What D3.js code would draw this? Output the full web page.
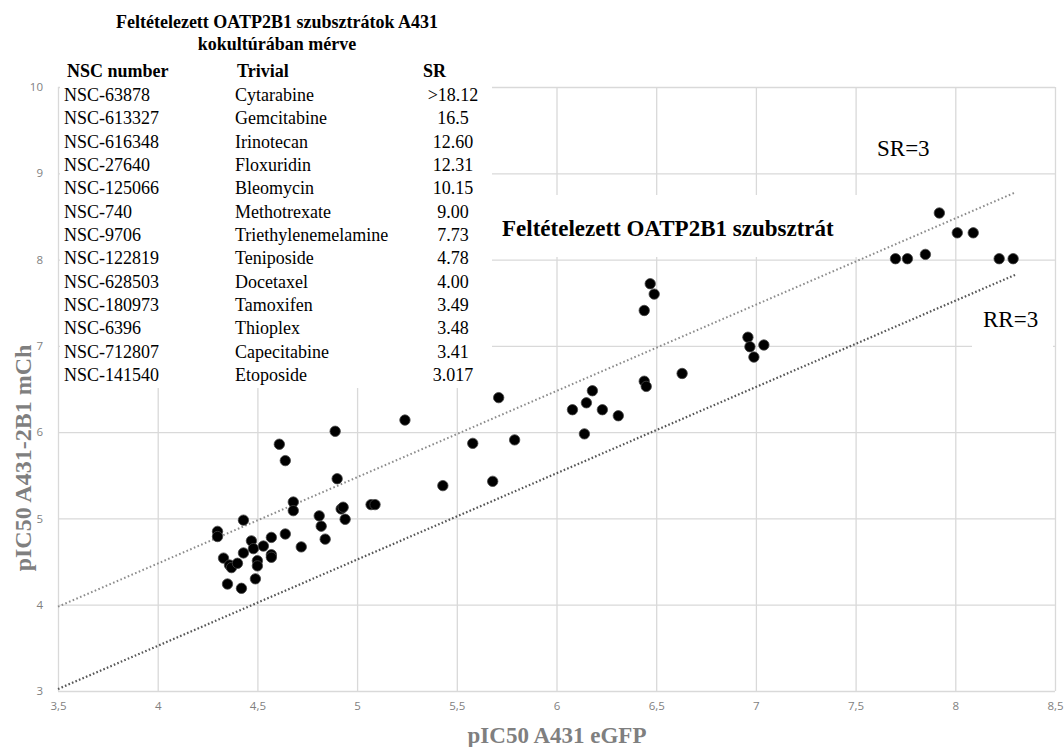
<!DOCTYPE html>
<html>
<head>
<meta charset="utf-8">
<script src="https://cdn.jsdelivr.net/npm/d3@7"></script>
<style>
  body { margin: 0; background: #fff; }
  svg { display: block; }
</style>
</head>
<body>
<svg id="chart" width="1064" height="747"></svg>
<script>
// table of presumed substrates
var nscNumbers = ['NSC-63878', 'NSC-613327', 'NSC-616348', 'NSC-27640', 'NSC-125066', 'NSC-740',
    'NSC-9706', 'NSC-122819', 'NSC-628503', 'NSC-180973', 'NSC-6396', 'NSC-712807', 'NSC-141540'];
var trivialNames = ['Cytarabine', 'Gemcitabine', 'Irinotecan', 'Floxuridin', 'Bleomycin', 'Methotrexate',
    'Triethylenemelamine', 'Teniposide', 'Docetaxel', 'Tamoxifen', 'Thioplex', 'Capecitabine', 'Etoposide'];
var srValues = ['>18.12', '16.5', '12.60', '12.31', '10.15', '9.00', '7.73', '4.78', '4.00', '3.49', '3.48', '3.41', '3.017'];

// scatter values
var eGFP = [7.92, 8.01, 8.09, 7.70, 7.76, 7.85, 8.22, 8.29,
    6.47, 6.49, 6.44, 6.96, 6.97, 7.04, 6.99, 6.63, 6.44, 6.45,
    6.18, 6.15, 6.08, 6.23, 6.31, 6.14,
    5.71, 5.24, 4.89, 5.58, 5.79,
    4.61, 4.64, 4.90, 5.43, 5.68,
    4.68, 4.68, 4.92, 4.93, 4.94, 5.07, 5.09,
    4.81, 4.82, 4.84, 4.64, 4.72,
    4.30, 4.30, 4.43, 4.33, 4.36, 4.37, 4.40, 4.43, 4.47, 4.48, 4.50, 4.50, 4.53, 4.57, 4.57, 4.57, 4.35, 4.42, 4.49];
var mCh = [8.54, 8.31, 8.31, 8.01, 8.01, 8.06, 8.01, 8.01,
    7.72, 7.60, 7.41, 7.10, 6.99, 7.01, 6.87, 6.68, 6.59, 6.53,
    6.48, 6.34, 6.26, 6.26, 6.19, 5.98,
    6.40, 6.14, 6.01, 5.87, 5.91,
    5.86, 5.67, 5.46, 5.38, 5.43,
    5.19, 5.09, 5.11, 5.13, 4.99, 5.16, 5.16,
    5.03, 4.91, 4.76, 4.82, 4.67,
    4.85, 4.79, 4.98, 4.54, 4.46, 4.43, 4.48, 4.60, 4.74, 4.65, 4.51, 4.45, 4.68, 4.78, 4.58, 4.55, 4.24, 4.19, 4.30];

var xTicks = [3.5, 4, 4.5, 5, 5.5, 6, 6.5, 7, 7.5, 8, 8.5];
var yTicks = [3, 4, 5, 6, 7, 8, 9, 10];
var lineX = [3.5, 8.3];                 // extent of the ratio lines
var ratioOffset = Math.log10(3);        // SR=3 / RR=3

var svg = d3.select('#chart');
var plotLeft = 58, plotRight = 1055, plotTop = 87, plotBottom = 691;

var x = d3.scaleLinear().domain([3.5, 8.5]).range([plotLeft, plotRight]);
var y = d3.scaleLinear().domain([3, 10]).range([plotBottom, plotTop]);

var gridColor = '#d9d9d9';
var serif = '"Liberation Serif", "Times New Roman", serif';
var sans = '"Open Sans", "Liberation Sans", sans-serif';

// grid
svg.append('g')
    .attr('transform', 'translate(0,' + plotBottom + ')')
    .call(d3.axisBottom(x).tickValues(xTicks).tickSize(-(plotBottom - plotTop)).tickFormat(''))
    .call(function (g) { g.select('.domain').remove(); })
    .selectAll('line').attr('stroke', gridColor).attr('stroke-width', 1.3);

svg.append('g')
    .attr('transform', 'translate(' + plotLeft + ',0)')
    .call(d3.axisLeft(y).tickValues(yTicks).tickSize(-(plotRight - plotLeft)).tickFormat(''))
    .call(function (g) { g.select('.domain').remove(); })
    .selectAll('line').attr('stroke', gridColor).attr('stroke-width', 1.3);

// tick labels
var xLab = svg.append('g')
    .attr('transform', 'translate(0,' + (plotBottom + 8) + ')')
    .call(d3.axisBottom(x).tickValues(xTicks).tickSize(0)
        .tickFormat(function (d) { return String(d).replace('.', ','); }));
xLab.select('.domain').remove();
xLab.selectAll('text').attr('font-family', sans).attr('font-size', 11.5).attr('fill', '#7f7f7f');

var yLab = svg.append('g')
    .attr('transform', 'translate(' + (plotLeft - 12) + ',0)')
    .call(d3.axisLeft(y).tickValues(yTicks).tickSize(0).tickFormat(d3.format('d')));
yLab.select('.domain').remove();
yLab.selectAll('text').attr('font-family', sans).attr('font-size', 11.5).attr('fill', '#7f7f7f');

// white boxes behind the labels
svg.append('rect').attr('x', plotLeft + 2).attr('y', 0).attr('width', 432).attr('height', 388).attr('fill', '#fff');
svg.append('rect').attr('x', 490).attr('y', 195).attr('width', 430).attr('height', 62).attr('fill', '#fff');
svg.append('rect').attr('x', 972).attr('y', 290).attr('width', 81).attr('height', 62).attr('fill', '#fff');

// ratio lines
var line = d3.line().x(function (d) { return x(d[0]); }).y(function (d) { return y(d[1]); });
svg.append('path')
    .datum(lineX.map(function (v) { return [v, v + ratioOffset]; }))
    .attr('d', line).attr('fill', 'none')
    .attr('stroke', '#8c8c8c').attr('stroke-width', 2).attr('stroke-dasharray', '1.6,2.4');
svg.append('path')
    .datum(lineX.map(function (v) { return [v, v - ratioOffset]; }))
    .attr('d', line).attr('fill', 'none')
    .attr('stroke', '#555').attr('stroke-width', 2.2).attr('stroke-dasharray', '1.6,2.2');

// points
svg.append('g').selectAll('circle')
    .data(eGFP.map(function (v, i) { return [v, mCh[i]]; }))
    .enter().append('circle')
    .attr('cx', function (d) { return x(d[0]); })
    .attr('cy', function (d) { return y(d[1]); })
    .attr('r', 5.2)
    .attr('fill', '#000')
    .attr('stroke', '#444')
    .attr('stroke-width', 0.8);

// axis titles
svg.append('text')
    .attr('x', 557).attr('y', 743)
    .attr('text-anchor', 'middle')
    .attr('font-family', serif).attr('font-weight', 'bold').attr('font-size', 23)
    .attr('fill', '#7f7f7f')
    .text('pIC50 A431 eGFP');

svg.append('text')
    .attr('transform', 'translate(31,458) rotate(-90)')
    .attr('text-anchor', 'middle')
    .attr('font-family', serif).attr('font-weight', 'bold').attr('font-size', 24)
    .attr('fill', '#7f7f7f')
    .text('pIC50 A431-2B1 mCh');

// table
var table = svg.append('g').attr('font-family', serif).attr('fill', '#000');

table.append('text').attr('x', 277).attr('y', 28).attr('text-anchor', 'middle')
    .attr('font-weight', 'bold').attr('font-size', 18)
    .text('Feltételezett OATP2B1 szubsztrátok A431');
table.append('text').attr('x', 277).attr('y', 50).attr('text-anchor', 'middle')
    .attr('font-weight', 'bold').attr('font-size', 18)
    .text('kokultúrában mérve');

var header = table.append('g').attr('font-weight', 'bold').attr('font-size', 18);
header.append('text').attr('x', 67).attr('y', 77).text('NSC number');
header.append('text').attr('x', 237).attr('y', 77).text('Trivial');
header.append('text').attr('x', 423).attr('y', 77).text('SR');

var rowY = function (i) { return 101 + i * 23.33; };
var rows = table.append('g').attr('font-size', 18);
rows.selectAll('.nsc').data(nscNumbers).enter().append('text')
    .attr('class', 'nsc').attr('x', 64).attr('y', function (d, i) { return rowY(i); }).text(function (d) { return d; });
rows.selectAll('.triv').data(trivialNames).enter().append('text')
    .attr('class', 'triv').attr('x', 235).attr('y', function (d, i) { return rowY(i); }).text(function (d) { return d; });
rows.selectAll('.sr').data(srValues).enter().append('text')
    .attr('class', 'sr').attr('x', 453).attr('y', function (d, i) { return rowY(i); })
    .attr('text-anchor', 'middle').text(function (d) { return d; });

// annotations
svg.append('text').attr('x', 502).attr('y', 236)
    .attr('font-family', serif).attr('font-weight', 'bold').attr('font-size', 23)
    .text('Feltételezett OATP2B1 szubsztrát');
svg.append('text').attr('x', 877).attr('y', 156)
    .attr('font-family', serif).attr('font-size', 23)
    .text('SR=3');
svg.append('text').attr('x', 983).attr('y', 327)
    .attr('font-family', serif).attr('font-size', 23)
    .text('RR=3');
</script>
</body>
</html>
